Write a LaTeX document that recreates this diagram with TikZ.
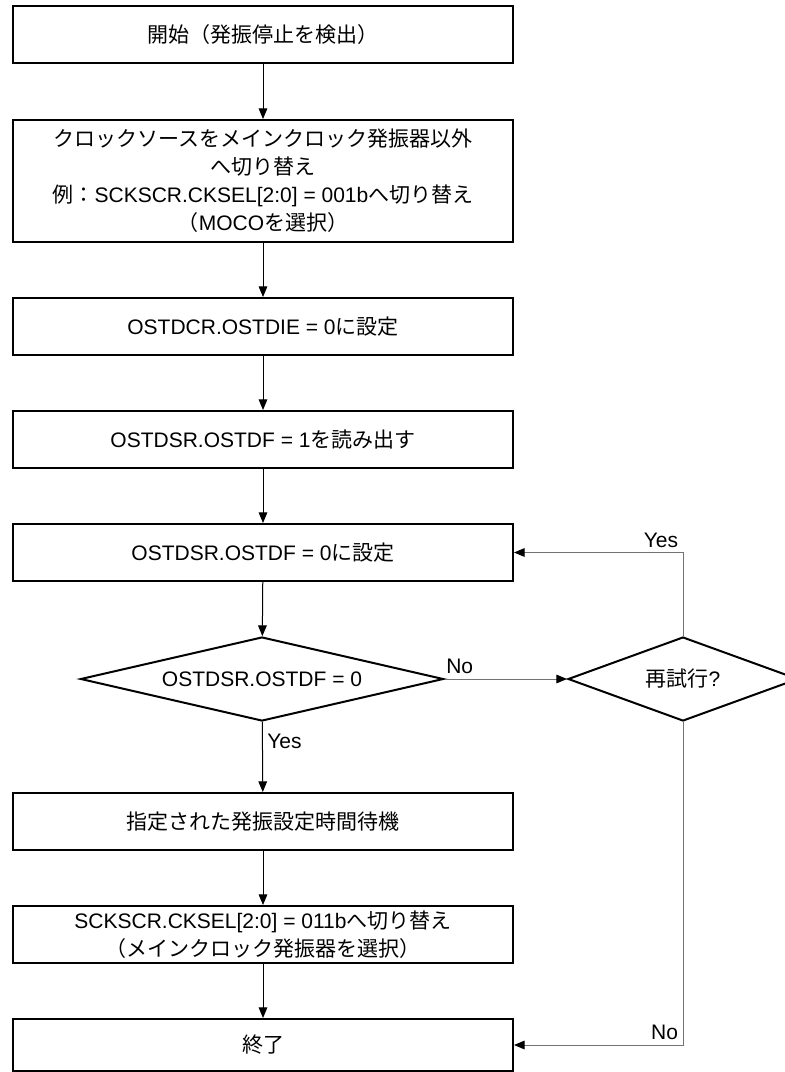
\documentclass[tikz,border=0pt]{standalone}
\usepackage{fontspec}
\setmainfont{Liberation Sans}
\newfontfamily\jp{Noto Sans CJK JP}
\usetikzlibrary{arrows.meta,shapes.geometric}

\begin{document}
\begin{tikzpicture}[x=0.75pt,y=-0.75pt,
  >={Triangle[length=8pt,width=6.5pt,color=black]},
  every node/.style={font=\fontsize{15.75}{21}\selectfont},
  stepbox/.style={draw,line width=1.5pt,minimum width=375pt,
    minimum height=42.75pt,align=center,inner sep=0pt},
  decision/.style={diamond,draw,line width=1.5pt,inner sep=0pt,
    minimum height=63pt},
  flow/.style={->,line width=0.75pt},
  branch/.style={flow,draw=black!55}]
  \useasboundingbox (0,0) rectangle (785,1072);
  \node[stepbox] (start) at (263,34.5) {{\jp 開始（発振停止を検出）}};
  \node[stepbox,minimum height=91.5pt] (switch) at (263,181)
    {{\jp クロックソースをメインクロック発振器以外}\\{\jp へ切り替え}\\
     {\jp 例：}SCKSCR.CKSEL[2:0] = 001b{\jp へ切り替え}\\{\jp （}MOCO{\jp を選択）}};
  \node[stepbox] (ostdie) at (263,326.5) {OSTDCR.OSTDIE = 0{\jp に設定}};
  \node[stepbox] (readf) at (263,439.5) {OSTDSR.OSTDF = 1{\jp を読み出す}};
  \node[stepbox] (clearf) at (263,552.5) {OSTDSR.OSTDF = 0{\jp に設定}};
  \node[decision,minimum width=272.25pt,aspect=4.3] (check) at (262,679)
    {OSTDSR.OSTDF = 0};
  \node[decision,minimum width=172.5pt,aspect=2.7] (retry) at (683,679)
    {{\jp 再試行}?};
  \node[stepbox] (wait) at (263,821.5) {{\jp 指定された発振設定時間待機}};
  \node[stepbox] (sel) at (263,934.5)
    {SCKSCR.CKSEL[2:0] = 011b{\jp へ切り替え}\\{\jp （メインクロック発振器を選択）}};
  \node[stepbox,minimum height=39pt] (end) at (263,1045) {{\jp 終了}};
  % main column
  \draw[flow] (start) -- (switch);
  \draw[flow] (switch) -- (ostdie);
  \draw[flow] (ostdie) -- (readf);
  \draw[flow] (readf) -- (clearf);
  \draw[flow] (clearf) -- (check);
  \draw[flow] (check) -- node[pos=.28,right]{Yes} (wait);
  \draw[flow] (wait) -- (sel);
  \draw[flow] (sel) -- (end);
  % retry branch
  \draw[branch] (check.east) -- node[pos=0,above right,inner xsep=1pt]{No} (retry.west);
  \draw[branch] (retry.north) |- node[pos=.5,above left]{Yes} (clearf.east);
  \draw[branch] (retry.south) |- node[pos=.5,above left]{No} (end.east);
\end{tikzpicture}
\end{document}
